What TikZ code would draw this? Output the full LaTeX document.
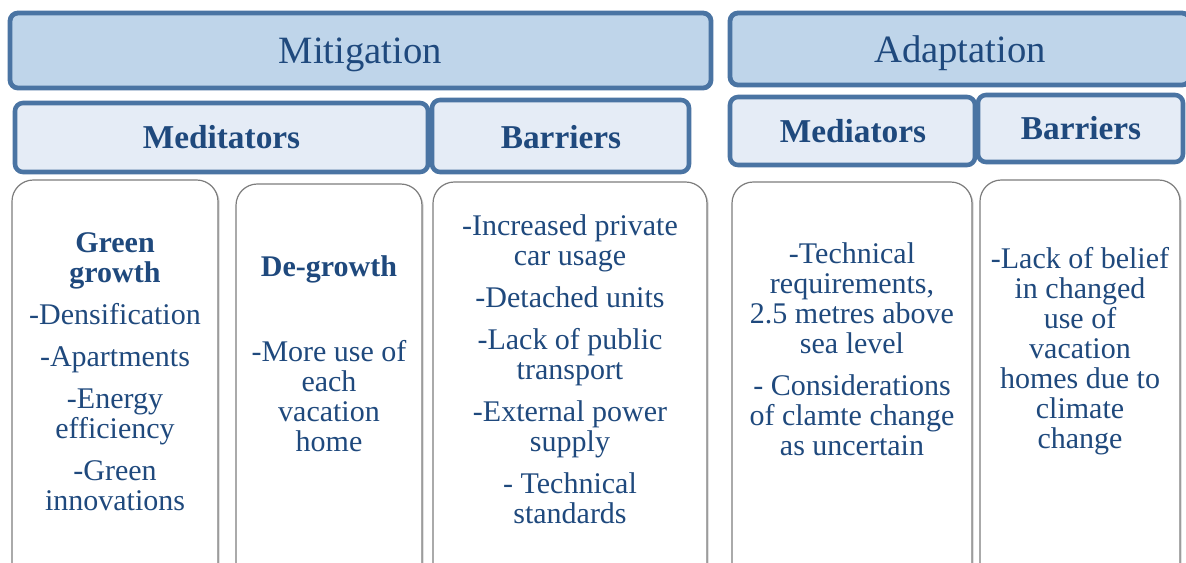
\documentclass[tikz,border=0pt]{standalone}
\usepackage{fontspec}
\setmainfont{Liberation Serif}
\usetikzlibrary{shadows}
\definecolor{txt}{RGB}{31,73,125}
\definecolor{hdborder}{RGB}{74,116,163}
\definecolor{topfill}{RGB}{191,213,234}
\definecolor{subfill}{RGB}{229,236,246}
\definecolor{cardborder}{RGB}{125,125,125}
\begin{document}
\begin{tikzpicture}[x=0.75pt,y=-0.75pt,
  tophead/.style={draw=hdborder, line width=3.6pt, fill=topfill, rounded corners=6pt},
  subhead/.style={draw=hdborder, line width=3.4pt, fill=subfill, rounded corners=6pt},
  card/.style={draw=cardborder, line width=0.9pt, fill=white, rounded corners=16pt,
    drop shadow={shadow xshift=1.3pt, shadow yshift=-1.3pt, opacity=0.35}},
  toplabel/.style={anchor=base, text=txt, font=\fontsize{29}{29}\selectfont, inner sep=0pt},
  sublabel/.style={anchor=base, text=txt, font=\fontsize{25}{25}\selectfont\bfseries, inner sep=0pt},
  body/.style={anchor=base, text=txt, font=\fontsize{22.5}{22.5}\selectfont, inner sep=0pt, align=flush center, text width=#1},
]
\useasboundingbox[fill=white] (0,0) rectangle (1186,562);

% top headers
\draw[tophead] (10,13) rectangle (711,88);
\draw[tophead] (730,13) rectangle (1190,85);
% sub headers
\draw[subhead] (15,103) rectangle (428,172);
\draw[subhead] (432,100) rectangle (689,172);
\draw[subhead] (730,97) rectangle (975,165);
\draw[subhead] (978,95) rectangle (1183,162);
% cards
\draw[card] (12,180) rectangle (218,620);
\draw[card] (236,184) rectangle (422,620);
\draw[card] (433,182) rectangle (707,620);
\draw[card] (732,182) rectangle (972,620);
\draw[card] (980,180) rectangle (1180,620);

\node[toplabel] (mitt) at (360.5,63) {Mitigation};
\node[toplabel] (adat) at (960,62) {Adaptation};
\node[sublabel] (medm) at (221.5,148) {Meditators};
\node[sublabel] (barm) at (561,148) {Barriers};
\node[sublabel] (meda) at (853,142) {Mediators};
\node[sublabel] (bara) at (1081,139) {Barriers};

\node[body=150pt] (gg) at (115,252) {\textbf{Green}\\\textbf{growth}\\[9pt]-Densification\\[9pt]-Apartments\\[9pt]-Energy\\efficiency\\[9pt]-Green\\innovations};
\node[body=135pt] (dgh) at (329,276) {\textbf{De-growth}};
\node[body=135pt] (dgb) at (329,361) {-More use of\\each\\vacation\\home};
\node[body=200pt] (bm) at (570,235) {-Increased private\\car usage\\[9pt]-Detached units\\[9pt]-Lack of public\\transport\\[9pt]-External power\\supply\\[9pt]- Technical\\standards};
\node[body=175pt] (ma) at (852,263) {-Technical\\requirements,\\2.5 metres above\\sea level\\[9pt]- Considerations\\of clamte change\\as uncertain};
\node[body=145pt] (ba) at (1080,268) {-Lack of belief\\in changed\\use of\\vacation\\homes due to\\climate\\change};
\end{tikzpicture}
\end{document}
